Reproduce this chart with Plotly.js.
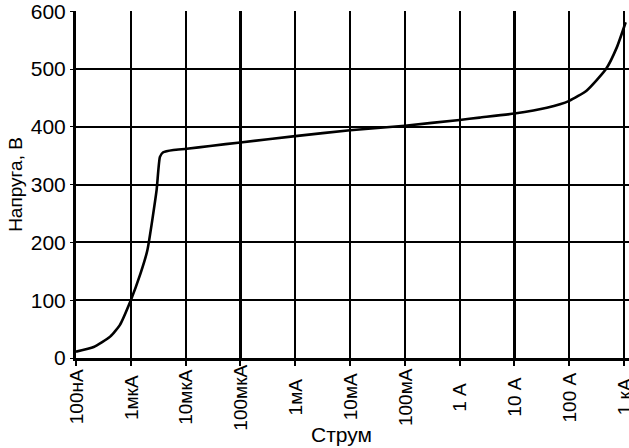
<!DOCTYPE html>
<html>
<head>
<meta charset="utf-8">
<script src="https://cdn.plot.ly/plotly-3.0.1.min.js"></script>
<style>html,body{margin:0;padding:0;background:#fff;}#chart{width:629px;height:448px;}</style>
</head>
<body>
<div id="chart"></div>
<script>
// Current (A) and voltage (V)
var current = [1e-7, 2.1e-7, 4.2e-7, 6.3e-7, 1e-6, 1.5e-6, 2e-6, 2.95e-6, 3.4e-6, 3.9e-6, 6e-6, 1.05e-5, 2.8e-5, 1e-4, 1e-3, 1e-2, 0.1, 1, 2.3, 10, 39, 100, 209, 468, 741, 1070];
var voltage = [11, 19, 37, 57, 100, 146, 186, 290, 348, 356, 360, 362, 367, 373, 384, 394, 402, 412, 416, 423, 433, 445, 463, 500, 538, 581];
var xTickVals = [1e-7, 1e-6, 1e-5, 1e-4, 1e-3, 1e-2, 1e-1, 1, 10, 100, 1000];
var xTickText = ["100нА", "1мкА", "10мкА", "100мкА", "1мА", "10мА", "100мА", "1 А", "10 А", "100 А", "1 кА"];
var yTickVals = [0, 100, 200, 300, 400, 500, 600];
var xTitle = "Струм";
var yTitle = "Напруга, В";

var font = "Liberation Sans, Arial, sans-serif";
var trace = {
  x: current, y: voltage, type: "scatter", mode: "lines",
  line: {color: "#000", width: 2.6, shape: "spline", smoothing: 0.5},
  hoverinfo: "none"
};

// x tick labels drawn centred under each tick (rotated text)
var annotations = xTickVals.map(function (v, i) {
  return {
    text: xTickText[i], xref: "x", yref: "paper",
    x: Math.log10(v), y: -0.113, xanchor: "center", yanchor: "middle",
    textangle: -90, showarrow: false,
    font: {family: font, size: 19, color: "#000"}
  };
});
annotations.push({
  text: xTitle, xref: "paper", yref: "paper",
  x: 0.481, y: -0.258, xanchor: "center", yanchor: "bottom",
  showarrow: false, font: {family: font, size: 21, color: "#000"}
});

var layout = {
  width: 629, height: 448,
  margin: {l: 76, r: 0, t: 11, b: 90},
  paper_bgcolor: "#fff", plot_bgcolor: "#fff",
  showlegend: false,
  font: {family: font, size: 19, color: "#000"},
  xaxis: {
    type: "log", range: [-7, 3.09],
    tickvals: xTickVals, ticktext: xTickText, showticklabels: false,
    ticks: "outside", ticklen: 5, tickwidth: 2, tickcolor: "#000",
    showgrid: true, gridcolor: "#000", gridwidth: 2.2,
    showline: true, linecolor: "#000", linewidth: 3,
    zeroline: false, mirror: false
  },
  yaxis: {
    range: [0, 600.5], tickvals: yTickVals,
    ticks: "outside", ticklen: 3, tickwidth: 1, tickcolor: "#000",
    ticklabeloverflow: "allow",
    showgrid: true, gridcolor: "#000", gridwidth: 2,
    showline: true, linecolor: "#000", linewidth: 3,
    zeroline: false,
    tickfont: {family: font, size: 21, color: "#000"},
    title: {text: yTitle, font: {family: font, size: 19, color: "#000"}, standoff: 4}
  },
  annotations: annotations
};
Plotly.newPlot("chart", [trace], layout, {displayModeBar: false, staticPlot: true});
</script>
</body>
</html>
